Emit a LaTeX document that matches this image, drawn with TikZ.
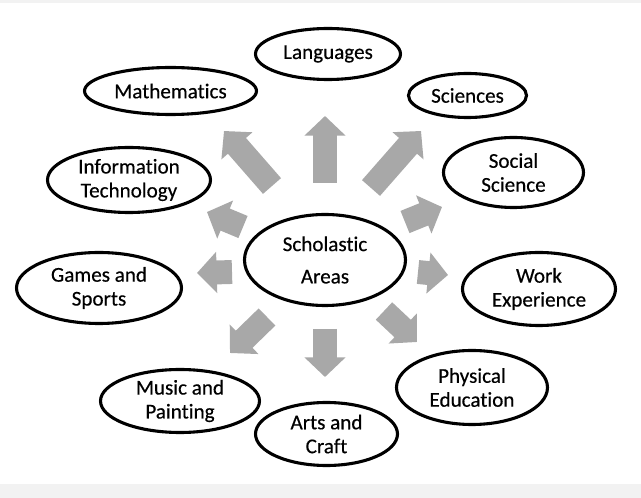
\documentclass[tikz,border=0pt]{standalone}
\usepackage{fontspec}
\setmainfont{Carlito}[Ligatures=NoCommon, FakeBold=0.4]
\usetikzlibrary{shapes.geometric,arrows.meta}
\definecolor{arrowgray}{HTML}{A8A8A8}
\definecolor{bandgray}{HTML}{F2F2F2}
\tikzset{
  area/.style 2 args={draw, ellipse, line width=2.2pt, inner sep=0pt, align=center,
    minimum width=#1*0.025cm, minimum height=#2*0.025cm,
    font=\fontsize{15}{17}\selectfont},
  blockarrow/.style={draw=arrowgray, line width=17pt,
    -{Triangle[length=14pt,width=28.5pt]}}
}

\begin{document}
\begin{tikzpicture}[x=0.025cm,y=-0.025cm]
    \fill[white] (0,0) rectangle (641,498);
    \fill[bandgray] (0,484) rectangle (641,498);
    \fill[bandgray] (0,0) rectangle (641,3);
    \useasboundingbox (0,0) rectangle (641,498);
    % subject areas
    \node[area={145}{51}] (lang) at (328,54) {Languages};
    \node[area={172}{47}] (math) at (170.5,91) {Mathematics};
    \node[area={118}{44}] (sci) at (467.5,95.5) {Sciences};
    \node[area={163}{65}] (it) at (129,180) {Information\\Technology};
    \node[area={140}{70}] (soc) at (513.5,172.5) {Social\\Science};
    \node[area={161}{91}] (sa) at (325,260) {Scholastic\\[6pt]Areas};
    \node[area={165}{71}] (games) at (99,288) {Games and\\Sports};
    \node[area={153}{73}] (work) at (539,289) {Work\\Experience};
    \node[area={159}{63}] (music) at (180,401) {Music and\\Painting};
    \node[area={151}{74}] (phys) at (472,387.5) {Physical\\Education};
    \node[area={142}{63}] (arts) at (326.5,434) {Arts and\\Craft};
    % gray arrows round the centre
    \foreach \tx/\ty/\hx/\hy in {325/183/325/116, 272/186/224/131, 371/188/421/131,
        243/227/207/212, 232/272/197/273, 405/222/442/207, 418/272/448/275,
        267/317/230/353, 325/329/325/377, 384/311/417/342}
      {\draw[blockarrow] (\tx,\ty) -- (\hx,\hy);}
\end{tikzpicture}
\end{document}
